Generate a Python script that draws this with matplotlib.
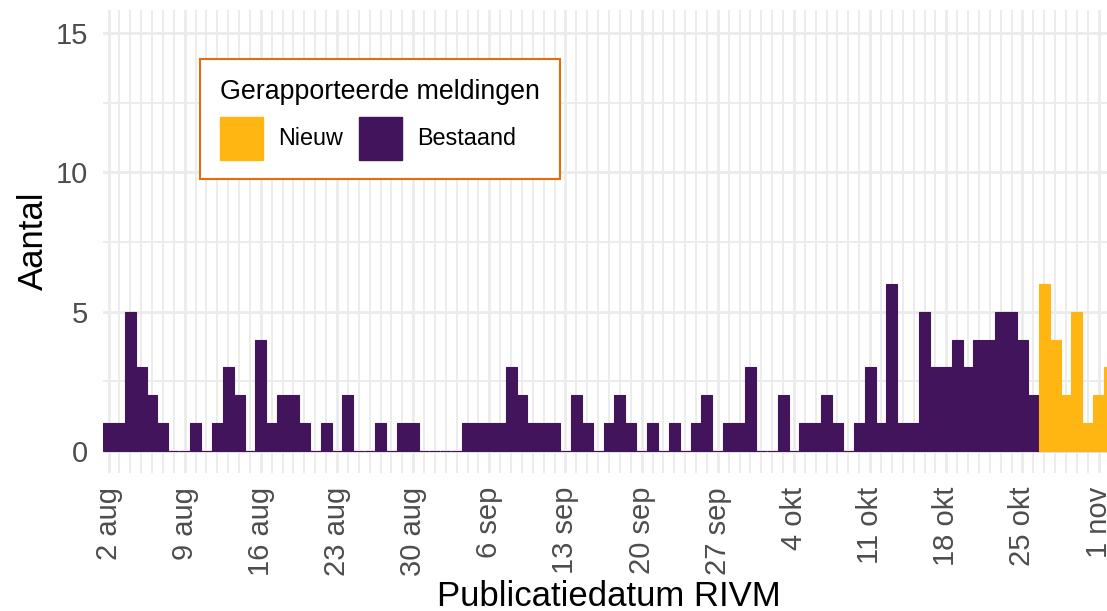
import numpy as np
import pandas as pd
import matplotlib
matplotlib.use("Agg")
import matplotlib.pyplot as plt
import matplotlib.dates as mdates
from matplotlib.patches import Patch
from matplotlib.transforms import ScaledTranslation

plt.rcParams['font.family'] = ['Liberation Sans', 'DejaVu Sans']

# %% data: daily reports, 2 aug .. 2 nov
dates = pd.date_range("2021-08-02", "2021-11-02", freq="D")
bestaand = [1, 1, 5, 3, 2, 1, 0,
            0, 1, 0, 1, 3, 2, 0,
            4, 1, 2, 2, 1, 0, 1,
            0, 2, 0, 0, 1, 0, 1,
            1, 0, 0, 0, 0, 1, 1,
            1, 1, 3, 2, 1, 1, 1,
            0, 2, 1, 0, 1, 2, 1,
            0, 1, 0, 1, 0, 1, 2,
            0, 1, 1, 3, 0, 0, 2,
            0, 1, 1, 2, 1, 0, 1,
            3, 1, 6, 1, 1, 5, 3,
            3, 4, 3, 4, 4, 5, 5,
            4, 2, 0, 0, 0, 0, 0,
            0, 0]
nieuw = [0] * 86 + [6, 4, 2, 5, 1, 2, 3]
tick_labels = ['2 aug', '9 aug', '16 aug', '23 aug', '30 aug', '6 sep', '13 sep',
               '20 sep', '27 sep', '4 okt', '11 okt', '18 okt', '25 okt', '1 nov']

col_nieuw = '#FFB612'
col_bestaand = '#42145B'
grid_col = '#EBEBEB'
tick_col = '#4D4D4D'

# %% figure
W, H = 1107, 611
fig = plt.figure(figsize=(W / 100, H / 100), dpi=100)
ax = fig.add_axes([103.1 / W, (H - 473) / H, 1011.8 / W, 463 / H])

x = mdates.date2num(dates)
ax.bar(x, bestaand, width=1.0, color=col_bestaand, edgecolor=col_bestaand, lw=0.8, zorder=3)
nieuw_mask = np.array(nieuw) > 0
ax.bar(x[nieuw_mask], np.array(nieuw)[nieuw_mask], width=1.0, color=col_nieuw,
       edgecolor=col_nieuw, lw=0.8, zorder=3)

ax.set_xlim(x[0] - 0.5, x[0] + 92.5)
ax.set_ylim(-0.79, 15.83)
ax.set_xticks(x[::7])
ax.set_xticklabels(tick_labels, rotation=90)
ax.set_xticks(x, minor=True)
ax.set_yticks([0, 5, 10, 15])
ax.set_yticks([2.5, 7.5, 12.5], minor=True)

# ggplot-ish: labels sit a little right of the tick
shift = ScaledTranslation(3 / 100, 0, fig.dpi_scale_trans)
for lab in ax.get_xticklabels():
    lab.set_transform(lab.get_transform() + shift)

ax.set_axisbelow(True)
ax.grid(which='major', color=grid_col, lw=1.95)
ax.grid(which='minor', color=grid_col, lw=1.3)
for s in ax.spines.values():
    s.set_visible(False)
ax.tick_params(which='both', length=0)
ax.tick_params(axis='x', labelsize=21, labelcolor=tick_col, pad=10)
ax.tick_params(axis='y', labelsize=21, labelcolor=tick_col, pad=11)

fig.text(609 / W, (H - 606) / H, 'Publicatiedatum RIVM', fontsize=25,
         ha='center', va='baseline')
fig.text(43 / W, (H - 241) / H, 'Aantal', fontsize=25, rotation=90,
         rotation_mode='anchor', ha='center', va='baseline')

handles = [Patch(facecolor=col_nieuw, edgecolor=col_nieuw, label='Nieuw'),
           Patch(facecolor=col_bestaand, edgecolor=col_bestaand, label='Bestaand')]
leg = ax.legend(handles=handles, title='Gerapporteerde meldingen', ncol=2,
                loc='upper left', bbox_to_anchor=(200 / W, 1 - 59 / H),
                bbox_transform=fig.transFigure, borderaxespad=0,
                fontsize=16.8, title_fontsize=19.3, alignment='left',
                borderpad=0.85, handlelength=1.84, handleheight=2.46,
                handletextpad=0.67, columnspacing=0.67,
                fancybox=False, framealpha=1, edgecolor='#E46C0A')
leg.get_frame().set_linewidth(1.5)

fig.savefig('out.png', dpi=100)
